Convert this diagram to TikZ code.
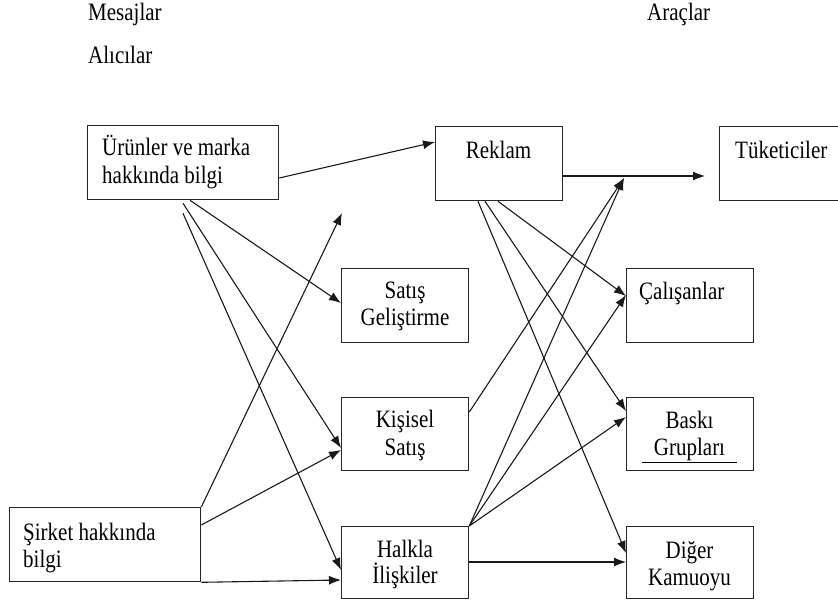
\documentclass[tikz,border=0pt]{standalone}
\usepackage{fontspec}
\setmainfont{Liberation Serif}[FakeStretch=0.84]
\usetikzlibrary{arrows.meta,calc}
\begin{document}
\begin{tikzpicture}[x=1pt,y=-1pt,
  box/.style={draw=black!85, line width=1.3pt, inner sep=0pt, anchor=north west},
  txt/.style={inner sep=0pt, font=\fontsize{25}{28}\selectfont, text=black},
  arr/.style={line width=1.1pt, draw=black!90, -{Latex[length=12pt,width=9pt]}},
  ln/.style={line width=1pt, draw=black!90}]
\useasboundingbox (0,0) rectangle (838,605);

% boxes
\node[box, minimum width=191pt, minimum height=74pt] (u)   at (87,125)  {};
\node[box, minimum width=127pt, minimum height=74pt] (rek) at (435,126) {};
\node[box, minimum width=141pt, minimum height=74pt] (tuk) at (719,126) {};
\node[box, minimum width=127pt, minimum height=74pt] (sg)  at (341,268) {};
\node[box, minimum width=127pt, minimum height=74pt] (cal) at (626,268) {};
\node[box, minimum width=127pt, minimum height=73pt] (ks)  at (341,397) {};
\node[box, minimum width=127pt, minimum height=73pt] (bg)  at (626,397) {};
\node[box, minimum width=191pt, minimum height=74pt] (sir) at (9,507)   {};
\node[box, minimum width=127pt, minimum height=72pt] (hi)  at (341,526) {};
\node[box, minimum width=127pt, minimum height=72pt] (dk)  at (626,526) {};

% header texts
\node[txt, anchor=base west] (h1) at (88,20) {Mesajlar};
\node[txt, anchor=base west] (h2) at (88,63) {Alıcılar};
\node[txt, anchor=base west] (h3) at (647,20) {Araçlar};

% box texts
\node[txt, anchor=base west] (ut1) at (102,155) {Ürünler ve marka};
\node[txt, anchor=base west] (ut2) at (102,183) {hakkında bilgi};
\node[txt, anchor=base] (rt) at (498.5,158) {Reklam};
\node[txt, anchor=base west] (tt) at (735,158) {Tüketiciler};
\node[txt, anchor=base] (sg1) at (405,298) {Satış};
\node[txt, anchor=base] (sg2) at (405,325) {Geliştirme};
\node[txt, anchor=base west] (ct) at (639,299) {Çalışanlar};
\node[txt, anchor=base] (ks1) at (405,427) {Kişisel};
\node[txt, anchor=base] (ks2) at (405,455) {Satış};
\node[txt, anchor=base] (bg1) at (689.5,428) {Baskı};
\node[txt, anchor=base] (bg2) at (689.5,455) {Grupları};
\draw[line width=1pt] (642,462) -- (737,462);
\node[txt, anchor=base west] (st1) at (23,540) {Şirket hakkında};
\node[txt, anchor=base west] (st2) at (23,567) {bilgi};
\node[txt, anchor=base] (hi1) at (405,557) {Halkla};
\node[txt, anchor=base] (hi2) at (405,583) {İlişkiler};
\node[txt, anchor=base] (dk1) at (689.5,558) {Diğer};
\node[txt, anchor=base] (dk2) at (689.5,585) {Kamuoyu};

% free ends
\coordinate (f1) at (342,213);
\coordinate (f2) at (705,176);
\coordinate (f3) at (624,178);

% connectors from Ürünler
\draw[arr] ($(u.north east)+(0,53)$) -- ($(rek.north west)+(0,16)$);
\draw[arr] ($(u.south west)+(103,0)$) -- ($(sg.north west)+(0,35)$);
\draw[arr] ($(u.south west)+(96,3)$) -- ($(ks.north west)+(0,51)$);
\draw[arr] ($(u.south west)+(96,13)$) -- ($(hi.north west)+(0,44)$);

% connectors from Şirket
\draw[arr] (sir.north east) -- (f1);
\draw[arr] ($(sir.north east)+(0,18)$) -- ($(ks.north west)+(0,53)$);
\draw[arr] (sir.south east) -- ($(hi.north west)+(0,54)$);

% Reklam
\draw[arr] ($(rek.north east)+(0,50)$) -- (f2);
\draw[arr] ($(rek.south west)+(63,0)$) -- ($(cal.north west)+(0,28)$);
\draw[arr] ($(rek.south west)+(50,0)$) -- ($(bg.north west)+(0,14)$);
\draw[arr] ($(rek.south west)+(43,0)$) -- ($(dk.north west)+(0,27)$);

% Kişisel Satış
\draw[arr] ($(ks.north east)+(0,15)$) -- (f3);

% Halkla İlişkiler
\draw[arr] (hi.north east) -- (f3);
\draw[arr] (hi.north east) -- ($(cal.north west)+(0,27)$);
\draw[arr] (hi.north east) -- ($(bg.north west)+(0,20)$);
\draw[arr] ($(hi.north east)+(0,36)$) -- ($(dk.north west)+(0,36)$);
\end{tikzpicture}
\end{document}
